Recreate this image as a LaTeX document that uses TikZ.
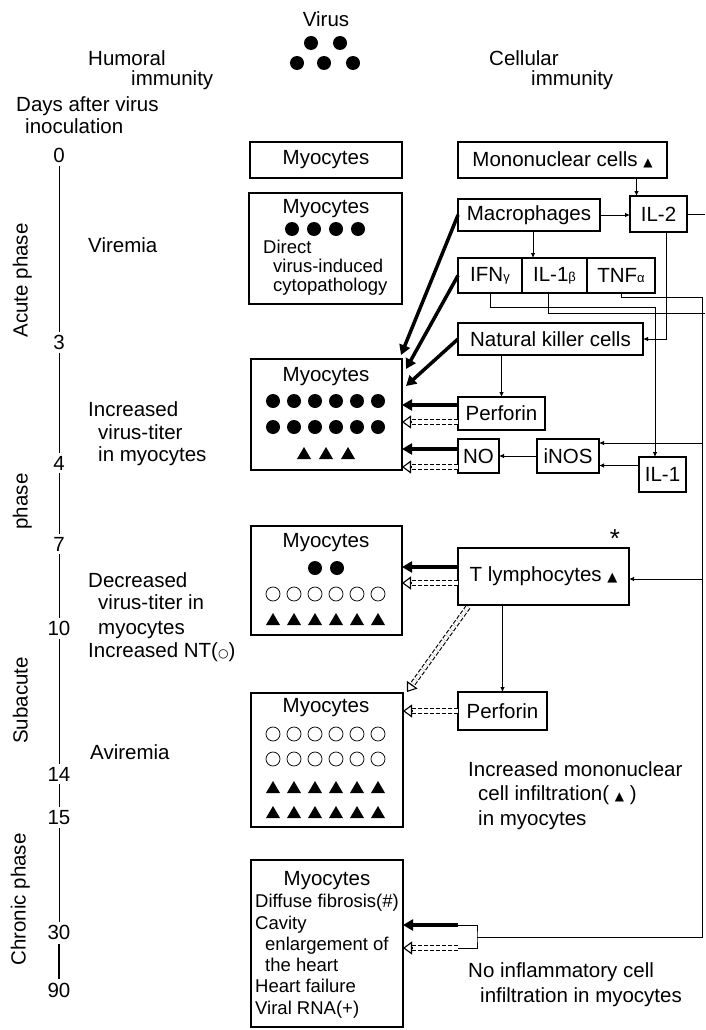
\documentclass[tikz,border=0pt]{standalone}
\usepackage{fontspec}
\setmainfont{Liberation Sans}
\newfontfamily\symf{DejaVu Sans}
\usetikzlibrary{arrows.meta,calc}
\newcommand{\dblarrow}[2]{\draw[dshaft] (#1) -- ($(#2)!8pt!(#1)$); \draw[ohead] ($(#2)!9pt!(#1)$) -- (#2);}
\begin{document}
\begin{tikzpicture}[x=1pt,y=-1pt,
  font=\fontsize{20.5}{22}\selectfont,
  box/.style={draw, line width=1.1pt, anchor=north west, inner sep=0pt, outer sep=0pt, align=center},
  txt/.style={inner sep=0pt, anchor=mid west, yshift=-1.5pt},
  ctxt/.style={inner sep=0pt, anchor=mid, yshift=-1.5pt},
  smalltxt/.style={font=\fontsize{18.5}{20}\selectfont},
  conn/.style={line width=0.8pt},
  arr/.style={conn, -{Latex[length=5pt,width=4.5pt]}},
  fatarrow/.style={line width=3.5pt, -{Triangle[length=10pt,width=11pt]}},
  dshaft/.style={line width=1.1pt, double, double distance=3.4pt, dash pattern=on 4pt off 2pt},
  ohead/.style={line width=1.1pt, -{Triangle[open,length=9pt,width=13pt]}},
  odot/.style={line width=0.75pt}]
\useasboundingbox (0,0) rectangle (705,1030);
\fill[white] (0,0) rectangle (705,1030);

% header
\node[ctxt] (virus) at (326,22) {Virus};
\foreach \x/\y in {311/43,340/43,297/63,324/63,353/63} \fill (\x,\y) circle (7pt);
\node[txt] (hum1) at (88,61) {Humoral};
\node[txt] (hum2) at (131,81) {immunity};
\node[txt] (cel1) at (489,61) {Cellular};
\node[txt] (cel2) at (531,81) {immunity};
\node[txt] (days1) at (16,107) {Days after virus};
\node[txt] (days2) at (25,129) {inoculation};

% timeline
\foreach \n/\y in {0/158,3/345,4/466,7/547,10/631,14/777,15/820,30/935,90/993}
  \node[ctxt] (d\n) at (59,\y) {\n};
\foreach \a/\b in {0/3,3/4,4/7,7/10,10/14,14/15,15/30}
  \draw[conn, shorten <=3pt, shorten >=3pt] (d\a.south) -- (d\b.north);
\draw[line width=1.8pt, shorten <=4pt, shorten >=4pt] (d30.south) -- (d90.north);

\node[ctxt, rotate=90] (pa) at (25,279) {Acute phase};
\node[ctxt, rotate=90] (pb) at (25,500) {phase};
\node[ctxt, rotate=90] (pc) at (25,699) {Subacute};
\node[ctxt, rotate=90] (pd) at (23,898) {Chronic phase};

% left texts
\node[txt] (l1) at (88,248) {Viremia};
\node[txt] (l2) at (88,412) {Increased};
\node[txt] (l3) at (98,435) {virus-titer};
\node[txt] (l4) at (98,457) {in myocytes};
\node[txt] (l5) at (88,583) {Decreased};
\node[txt] (l6) at (98,605) {virus-titer in};
\node[txt] (l7) at (98,630) {myocytes};
\node[txt] (l8) at (88,653) {Increased NT({\symf\fontsize{12}{12}\selectfont ○})};
\node[txt] (l9) at (90,755) {Aviremia};

% myocyte boxes
\node[box, minimum width=152pt, minimum height=36pt] (b1) at (250,142) {Myocytes};
\node[box, minimum width=153pt, minimum height=111pt] (b2) at (249,193) {};
\node[box, minimum width=151pt, minimum height=111pt] (b3) at (251,359) {};
\node[box, minimum width=151pt, minimum height=109pt] (b4) at (251,526) {};
\node[box, minimum width=152pt, minimum height=134pt] (b5) at (251,693) {};
\node[box, minimum width=152pt, minimum height=167pt] (b6) at (251,860) {};

% box 2
\node[ctxt] (m2) at (326,209) {Myocytes};
\foreach \x in {292,314,336,358} \fill (\x,229) circle (7pt);
\node[txt, smalltxt] (b2a) at (263,249) {Direct};
\node[txt, smalltxt] (b2b) at (273,268) {virus-induced};
\node[txt, smalltxt] (b2c) at (273,287) {cytopathology};

% box 3
\node[ctxt] (m3) at (326,377) {Myocytes};
\foreach \y in {401,427} \foreach \x in {273,294,315,336,357,378} \fill (\x,\y) circle (7pt);
\foreach \x in {304,326,348} \fill (\x-7,459) -- (\x+7,459) -- (\x,447) -- cycle;

% box 4
\node[ctxt] (m4) at (326,543) {Myocytes};
\foreach \x in {315,337} \fill (\x,568) circle (7pt);
\foreach \x in {273,294,315,336,357,378} \draw[odot] (\x,594) circle (7pt);
\foreach \x in {273,294,315,336,357,378} \fill (\x-7,625) -- (\x+7,625) -- (\x,613) -- cycle;

% box 5
\node[ctxt] (m5) at (326,708) {Myocytes};
\foreach \y in {734,759} \foreach \x in {273,294,315,336,357,378} \draw[odot] (\x,\y) circle (7pt);
\foreach \y in {787,812} \foreach \x in {273,294,315,336,357,378} \fill (\x-7,\y+6) -- (\x+7,\y+6) -- (\x,\y-6) -- cycle;

% box 6
\node[ctxt] (m6) at (327,881) {Myocytes};
\node[txt, smalltxt] (b6a) at (255,903) {Diffuse fibrosis(\#)};
\node[txt, smalltxt] (b6b) at (255,925) {Cavity};
\node[txt, smalltxt] (b6c) at (265,946) {enlargement of};
\node[txt, smalltxt] (b6d) at (265,967) {the heart};
\node[txt, smalltxt] (b6e) at (255,988) {Heart failure};
\node[txt, smalltxt] (b6f) at (255,1010) {Viral RNA(+)};

% right column
\node[box, minimum width=209pt, minimum height=36pt] (mono) at (458,142) {Mononuclear cells {\symf\fontsize{12}{12}\selectfont ▲}};
\node[box, minimum width=142pt, minimum height=32pt] (mac) at (458,199) {Macrophages};
\node[box, minimum width=57pt, minimum height=36pt] (il2) at (630,196) {IL-2};
\node[box, minimum width=64pt, minimum height=35pt] (ifn) at (458,258) {IFN{\fontsize{13}{13}\selectfont γ}};
\node[box, minimum width=65pt, minimum height=35pt] (il1b) at (522,258) {IL-1{\fontsize{13}{13}\selectfont β}};
\node[box, minimum width=68pt, minimum height=35pt] (tnf) at (587,258) {TNF{\fontsize{13}{13}\selectfont α}};
\node[box, minimum width=185pt, minimum height=32pt] (nk) at (458,323) {Natural killer cells};
\node[box, minimum width=87pt, minimum height=33pt] (perf1) at (458,397) {Perforin};
\node[box, minimum width=41pt, minimum height=34pt] (no) at (458,439) {NO};
\node[box, minimum width=62pt, minimum height=34pt] (inos) at (537,439) {iNOS};
\node[box, minimum width=47pt, minimum height=35pt] (il1) at (639,457) {IL-1};
\node[box, minimum width=171pt, minimum height=57pt] (tly) at (458,548) {T lymphocytes {\symf\fontsize{13}{13}\selectfont ▲}};
\node[ctxt, font=\fontsize{26}{26}\selectfont] (ast) at (615,543) {*};
\node[box, minimum width=89pt, minimum height=38pt] (perf2) at (458,692) {Perforin};

\node[txt] (r1) at (468,772) {Increased mononuclear};
\node[txt] (r2) at (478,796) {cell infiltration( {\symf\fontsize{12}{12}\selectfont ▲} )};
\node[txt] (r3) at (478,821) {in myocytes};
\node[txt] (r4) at (468,973) {No inflammatory cell};
\node[txt] (r5) at (480,998) {infiltration in myocytes};

% thin connectors
\coordinate (edgeR) at (705,0);
\draw[conn] (il2.east) -- (il2.east -| edgeR);
\draw[arr] ([xshift=-22pt]il2.north |- mono.south) -- ([xshift=-22pt]il2.north);
\draw[arr] (mac.east) -- (mac.east -| il2.west);
\draw[arr] ([xshift=4pt]mac.south) -- ([xshift=4pt]mac.south |- il1b.north);
\draw[arr] ([xshift=8pt]il2.south) |- (nk.east);
\draw[arr] (perf1.north |- nk.south) -- (perf1.north);
\coordinate (ifnk) at (655,307);
\draw[arr] (ifn.south) |- (ifnk) -- (ifnk |- il1.north);
\coordinate (il1bk) at (705,313);
\draw[conn] ([xshift=-6pt]il1b.south) |- (il1bk);
\coordinate (rvtop) at (702,297);
\coordinate (rvbot) at (702,937);
\coordinate (br) at (477,937);
\draw[conn] (tnf.south) |- (rvtop) -- (rvbot) -- (br);
\coordinate (rvi) at (702,443);
\draw[arr] (rvi) -- (rvi -| inos.east);
\draw[arr] ([yshift=9pt]il1.west) -- ([yshift=9pt]il1.west -| inos.east);
\draw[arr] (inos.west) -- (inos.west -| no.east);
\coordinate (rvt) at (702,579);
\draw[arr] (rvt) -- (rvt -| tly.east);
\draw[arr] (perf2.north |- tly.south) -- (perf2.north);
\coordinate (bs) at (458,925);
\coordinate (bd) at (458,948);
\draw[conn] (bs) -| (br) |- (bd);

% thick arrows
\coordinate (f1) at (401,355);
\coordinate (f2) at (406,369);
\coordinate (f3) at (406,386);
\draw[fatarrow] (mac.west) -- (f1);
\draw[fatarrow] (ifn.west) -- (f2);
\draw[fatarrow] (nk.west) -- (f3);
\draw[fatarrow] ([yshift=8.5pt]perf1.west) -- ([yshift=8.5pt]perf1.west -| b3.east);
\draw[fatarrow] ([yshift=7pt]no.west) -- ([yshift=7pt]no.west -| b3.east);
\draw[fatarrow] ([yshift=9.5pt]tly.west) -- ([yshift=9.5pt]tly.west -| b4.east);
\draw[fatarrow] (bs) -- (bs -| b6.east);

% dashed double arrows
\coordinate (d1a) at ([yshift=-8.5pt]perf1.west);
\coordinate (d1b) at (d1a -| b3.east);
\dblarrow{d1a}{d1b}
\coordinate (d2a) at ([yshift=-11pt]no.west);
\coordinate (d2b) at (d2a -| b3.east);
\dblarrow{d2a}{d2b}
\coordinate (d3a) at ([yshift=-6.5pt]tly.west);
\coordinate (d3b) at (d3a -| b4.east);
\dblarrow{d3a}{d3b}
\coordinate (d4a) at ([xshift=10pt,yshift=-2pt]tly.south west);
\coordinate (d4b) at ([xshift=4pt,yshift=1pt]b5.north east);
\dblarrow{d4a}{d4b}
\coordinate (d5a) at (perf2.west);
\coordinate (d5b) at (d5a -| b5.east);
\dblarrow{d5a}{d5b}
\coordinate (d6b) at (bd -| b6.east);
\dblarrow{bd}{d6b}
\end{tikzpicture}
\end{document}
